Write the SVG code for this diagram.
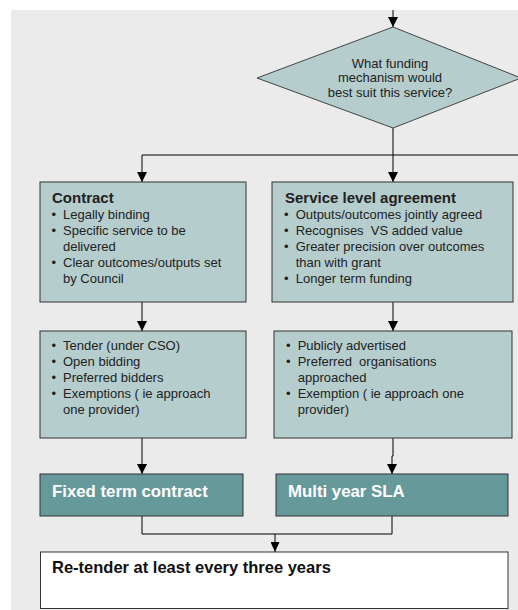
<svg xmlns="http://www.w3.org/2000/svg" width="518" height="610" viewBox="0 0 518 610">
<style>
.box{fill:#b5cdcd;stroke:#333;stroke-width:1}
.dark{fill:#669999;stroke:#333;stroke-width:1}
.white{fill:#fff;stroke:#333;stroke-width:1}
.ln{fill:none;stroke:#000;stroke-width:1}
text{font-family:"Liberation Sans",Arial,sans-serif;fill:#222;white-space:pre}
.t{font-size:15px;font-weight:bold}
.b{font-size:13px}
.q{font-size:13px}
.w{font-size:16.8px;font-weight:bold;fill:#fff}
.r{font-size:16.5px;font-weight:bold;fill:#111}
</style>
<defs>
<marker id="ah" markerUnits="userSpaceOnUse" markerWidth="10" markerHeight="10" refX="10" refY="5" orient="auto" viewBox="0 0 10 10"><path d="M0,0L10,5L0,10z" fill="#000"/></marker>
<marker id="ahs" markerUnits="userSpaceOnUse" markerWidth="10" markerHeight="9" refX="10" refY="4.5" orient="auto" viewBox="0 0 10 9"><path d="M0,0L10,4.5L0,9z" fill="#000"/></marker>
</defs>
<rect x="11" y="10" width="507" height="600" fill="#ebebeb"/>
<g id="connectors">
<path class="ln" d="M393,10V27" marker-end="url(#ah)"/>
<path class="ln" d="M393,128V182" marker-end="url(#ah)"/>
<path class="ln" d="M519,155H142V182" marker-end="url(#ah)"/>
<path class="ln" d="M142,302V331" marker-end="url(#ah)"/>
<path class="ln" d="M393,302V331" marker-end="url(#ah)"/>
<path class="ln" d="M142,438V474" marker-end="url(#ah)"/>
<path class="ln" d="M393,438V456H392V474" marker-end="url(#ah)"/>
<path class="ln" d="M142,516V534H392V516"/>
<path class="ln" d="M275,534V552" marker-end="url(#ahs)"/>
</g>
<g id="decision">
<polygon points="393,27 521,78 393,128 257,78" fill="#b5cdcd" stroke="#444" stroke-width="1"/>
<text class="q" x="390" y="67.5" text-anchor="middle">What funding</text>
<text class="q" x="390" y="82.3" text-anchor="middle">mechanism would</text>
<text class="q" x="390" y="97" text-anchor="middle">best suit this service?</text>
</g>
<g id="contract">
<rect class="box" x="40" y="182" width="206" height="120"/>
<text class="t" x="52" y="203">Contract</text>
<text class="b" x="51.5" y="219">•</text><text class="b" x="63" y="219">Legally binding</text>
<text class="b" x="51.5" y="235">•</text><text class="b" x="63" y="235">Specific service to be</text>
<text class="b" x="63" y="251">delivered</text>
<text class="b" x="51.5" y="267">•</text><text class="b" x="63" y="267">Clear outcomes/outputs set</text>
<text class="b" x="63" y="283">by Council</text>
</g>
<g id="sla">
<rect class="box" x="272" y="182" width="241" height="120"/>
<text class="t" x="285" y="203">Service level agreement</text>
<text class="b" x="284" y="219">•</text><text class="b" x="295.7" y="219">Outputs/outcomes jointly agreed</text>
<text class="b" x="284" y="235">•</text><text class="b" x="295.7" y="235">Recognises  VS added value</text>
<text class="b" x="284" y="251">•</text><text class="b" x="295.7" y="251">Greater precision over outcomes</text>
<text class="b" x="295.7" y="267">than with grant</text>
<text class="b" x="284" y="283">•</text><text class="b" x="295.7" y="283">Longer term funding</text>
</g>
<g id="contract-process">
<rect class="box" x="40" y="331" width="206" height="107"/>
<text class="b" x="51.5" y="350">•</text><text class="b" x="63" y="350">Tender (under CSO)</text>
<text class="b" x="51.5" y="366">•</text><text class="b" x="63" y="366">Open bidding</text>
<text class="b" x="51.5" y="382">•</text><text class="b" x="63" y="382">Preferred bidders</text>
<text class="b" x="51.5" y="398">•</text><text class="b" x="63" y="398">Exemptions ( ie approach</text>
<text class="b" x="63" y="414">one provider)</text>
</g>
<g id="sla-process">
<rect class="box" x="274" y="331" width="238" height="107"/>
<text class="b" x="286" y="350">•</text><text class="b" x="297.7" y="350">Publicly advertised</text>
<text class="b" x="286" y="366">•</text><text class="b" x="297.7" y="366">Preferred  organisations</text>
<text class="b" x="297.7" y="382">approached</text>
<text class="b" x="286" y="398">•</text><text class="b" x="297.7" y="398">Exemption ( ie approach one</text>
<text class="b" x="297.7" y="414">provider)</text>
</g>
<g id="fixed-term">
<rect class="dark" x="40" y="474" width="203" height="42"/>
<text class="w" x="52" y="497">Fixed term contract</text>
</g>
<g id="multi-year">
<rect class="dark" x="276" y="474" width="232" height="42"/>
<text class="w" x="288" y="497">Multi year SLA</text>
</g>
<g id="retender">
<rect class="white" x="40.5" y="552" width="467.5" height="56.5"/>
<text class="r" x="52" y="573">Re-tender at least every three years</text>
</g>
</svg>
